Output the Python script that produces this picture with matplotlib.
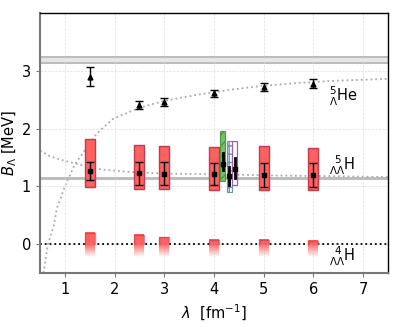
import numpy as np
import matplotlib
matplotlib.use('Agg')
import matplotlib.pyplot as plt
from matplotlib.patches import Rectangle

# lambda values of the SRG calculations
lam = [1.5, 2.5, 3.0, 4.0, 5.0, 6.0]

# 5_Lambda He
he5 = [2.90, 2.41, 2.46, 2.61, 2.72, 2.78]
he5_err = [0.17, 0.07, 0.065, 0.06, 0.07, 0.085]

# 5_LambdaLambda H
h5 = [1.27, 1.23, 1.22, 1.21, 1.20, 1.20]
h5_err = [0.16, 0.20, 0.20, 0.19, 0.21, 0.21]
h5_box_lo = [0.99, 0.95, 0.95, 0.93, 0.93, 0.93]
h5_box_hi = [1.82, 1.71, 1.69, 1.68, 1.69, 1.66]

# 4_LambdaLambda H (upper edge of the band)
h4_box_hi = [0.20, 0.155, 0.115, 0.075, 0.07, 0.05]
h4_fade_lo = -0.23

# other calculations near lambda = 4
other_x = [4.18, 4.31, 4.42]
other_val = [1.39, 1.18, 1.30]
other_lo = [1.29, 1.03, 1.15]
other_hi = [1.58, 1.34, 1.49]
other_box_lo = [1.09, 0.91, 1.03]
other_box_hi = [1.96, 1.79, 1.79]

# experimental bands
he5_exp = (3.14, 3.24)
h5_exp = (1.11, 1.155)

# dotted fit curves
rise_x = [0.57, 0.66, 0.77, 0.84, 1.0, 1.2, 1.34, 1.65, 1.97, 2.5, 3.0, 3.7, 4.4, 5.0, 5.7, 6.5, 7.5]
rise_y = [-0.5, 0.0, 0.3, 0.62, 1.0, 1.38, 1.55, 1.92, 2.17, 2.36, 2.48, 2.59, 2.68, 2.74, 2.79, 2.83, 2.86]
fall_x = [0.5, 0.7, 1.0, 1.24, 1.5, 1.75, 2.3, 3.0, 4.0, 5.0, 6.0, 7.5]
fall_y = [1.62, 1.52, 1.44, 1.39, 1.33, 1.29, 1.25, 1.22, 1.21, 1.19, 1.18, 1.16]

red = '#ff6060'
red_edge = '#c03a50'
fs = 10.5

fig = plt.figure(figsize=(3.99, 3.27), dpi=100)
ax = fig.add_axes([0.1003, 0.1651, 0.8721, 0.7951])

ax.grid(True, ls='--', lw=0.5, color='#dddddd', zorder=0)

# experimental bands
ax.axhspan(he5_exp[0], he5_exp[1], color='#e6e6e6', lw=0, zorder=1)
for v in he5_exp:
    ax.axhline(v, color='#bbbbbb', lw=1.4, zorder=1)
ax.axhspan(h5_exp[0], h5_exp[1], color='#bdbdbd', lw=0, zorder=1)

# fit curves
ax.plot(rise_x, rise_y, ls=':', color='#aaaaaa', lw=1.3, zorder=1)
ax.plot(fall_x, fall_y, ls=':', color='#aaaaaa', lw=1.3, zorder=1)
ax.axhline(0, color='black', ls=':', lw=1.3, zorder=2)

w = 0.2
for x, lo, hi in zip(lam, h5_box_lo, h5_box_hi):
    ax.add_patch(Rectangle((x - w / 2, lo), w, hi - lo, facecolor=red,
                           edgecolor=red_edge, lw=1.0, zorder=3))

# fading bands for 4LLH
rgb = matplotlib.colors.to_rgb(red)
for x, hi in zip(lam, h4_box_hi):
    ys = np.linspace(hi, h4_fade_lo, 100)
    alpha = np.clip(ys / -h4_fade_lo + 1.0, 0, 1)
    img = np.zeros((100, 1, 4))
    img[:, 0, :3] = rgb
    img[:, 0, 3] = alpha
    ax.imshow(img, extent=[x - w / 2, x + w / 2, h4_fade_lo, hi], aspect='auto',
              origin='upper', zorder=3, interpolation='bilinear')
    ax.plot([x - w / 2, x - w / 2, x + w / 2, x + w / 2], [0, hi, hi, 0],
            color=red_edge, lw=1.0, alpha=0.6, zorder=3)

# other calculations
bw = 0.1
ax.add_patch(Rectangle((other_x[0] - bw / 2, other_box_lo[0]), bw,
                       other_box_hi[0] - other_box_lo[0], facecolor='#74c064',
                       edgecolor='#4c9a40', hatch='///', lw=0.8, zorder=3))
ax.add_patch(Rectangle((other_x[1] - bw / 2, other_box_lo[1]), bw,
                       other_box_hi[1] - other_box_lo[1], facecolor='white',
                       edgecolor='#7090b8', hatch='++', lw=0.8, zorder=3))
ax.add_patch(Rectangle((other_x[2] - bw / 2, other_box_lo[2]), bw,
                       other_box_hi[2] - other_box_lo[2], facecolor='white',
                       edgecolor='#a060a8', lw=0.9, zorder=3))
for x, v, lo, hi in zip(other_x, other_val, other_lo, other_hi):
    ax.plot([x, x], [lo, hi], color='black', lw=2.0, zorder=4)
    ax.plot(x, v, 's', color='black', ms=3.5, zorder=5)

ax.errorbar(lam, he5, yerr=he5_err, fmt='^', color='black', ms=3.5,
            capsize=3, elinewidth=1.0, capthick=1.0, zorder=5)
ax.errorbar(lam, h5, yerr=h5_err, fmt='s', color='black', ms=3.2,
            capsize=3, elinewidth=1.0, capthick=1.0, zorder=5)

ax.text(6.32, 2.55, r'$^{5}_{\Lambda}\mathrm{He}$', fontsize=fs, va='center', ha='left')
ax.text(6.32, 1.37, r'$^{\ \,5}_{\Lambda\Lambda}\mathrm{H}$', fontsize=fs, va='center', ha='left')
ax.text(6.32, -0.22, r'$^{\ \,4}_{\Lambda\Lambda}\mathrm{H}$', fontsize=fs, va='center', ha='left')

ax.set_xlim(0.5, 7.5)
ax.set_ylim(-0.5, 4.0)
ax.set_xticks([1, 2, 3, 4, 5, 6, 7])
ax.set_yticks([0, 1, 2, 3])
ax.tick_params(labelsize=fs, length=3, color='#777777')
ax.set_xlabel(r'$\lambda$  [fm$^{-1}$]', fontsize=fs)
ax.set_ylabel(r'$B_\Lambda$ [MeV]', fontsize=fs, labelpad=2)

for s in ['left', 'bottom']:
    ax.spines[s].set_color('#777777')
    ax.spines[s].set_linewidth(1.5)
for s in ['top', 'right']:
    ax.spines[s].set_color('black')
    ax.spines[s].set_linewidth(1.0)

fig.savefig('out.png', dpi=100)
